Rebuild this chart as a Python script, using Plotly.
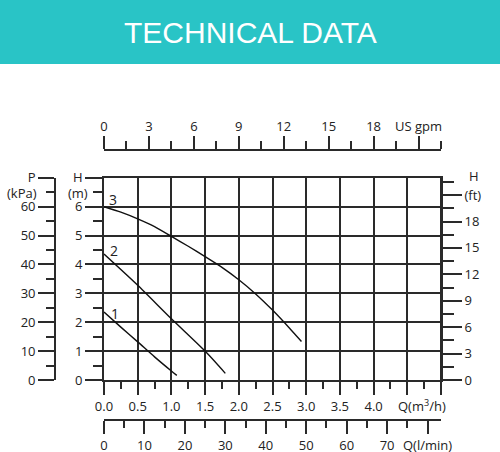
import plotly.graph_objects as go

# pump curves, flow Q in m3/h and head H in m
q_curve1 = [0.0, 0.25, 0.5, 0.75, 1.0, 1.08]
h_curve1 = [2.35, 1.83, 1.32, 0.80, 0.31, 0.16]

q_curve2 = [0.0, 0.5, 1.0, 1.5, 1.8]
h_curve2 = [4.36, 3.28, 2.12, 1.00, 0.23]

q_curve3 = [0.0, 0.25, 0.5, 0.75, 1.0, 1.25, 1.5, 1.75, 2.0, 2.25, 2.5, 2.75, 2.93]
h_curve3 = [6.0, 5.81, 5.58, 5.31, 4.97, 4.63, 4.27, 3.90, 3.47, 2.98, 2.42, 1.80, 1.33]

curve_names = ["1", "2", "3"]

# axis ticks
q_ticks = [0.0, 0.5, 1.0, 1.5, 2.0, 2.5, 3.0, 3.5, 4.0, 4.5, 5.0]
q_labels = ["0.0", "0.5", "1.0", "1.5", "2.0", "2.5", "3.0", "3.5", "4.0", "", ""]
h_ticks = [0, 1, 2, 3, 4, 5, 6, 7]
h_labels = ["0", "1", "2", "3", "4", "5", "6", "H"]
p_ticks = [0, 10, 20, 30, 40, 50, 60, 70]
p_labels = ["0", "10", "20", "30", "40", "50", "60", "P"]
ft_ticks = [0, 3, 6, 9, 12, 15, 18, 21]
ft_labels = ["0", "3", "6", "9", "12", "15", "18", "(ft)"]
gpm_ticks = [0, 3, 6, 9, 12, 15, 18, 21]
gpm_labels = ["0", "3", "6", "9", "12", "15", "18", "US gpm"]
lmin_ticks = [0, 10, 20, 30, 40, 50, 60, 70, 80]
lmin_labels = ["0", "10", "20", "30", "40", "50", "60", "70", "Q(l/min)"]

W, H = 500, 452
INK = "#2a2a2a"
TEAL = "#29C4C6"
LW = 1.8
FONT = dict(family="Open Sans", size=13, color="#222222")


def px_x(px):
    return px / W


def px_y(py):
    return 1 - py / H


fig = go.Figure()

for q, h in [(q_curve1, h_curve1), (q_curve2, h_curve2), (q_curve3, h_curve3)]:
    fig.add_trace(go.Scatter(x=q, y=h, mode="lines", line=dict(color="#111111", width=1.4,
                                                                shape="spline", smoothing=0.6),
                             showlegend=False, hoverinfo="skip"))

# empty traces so the extra axes get drawn
for xa, ya in [("x2", "y"), ("x3", "y"), ("x", "y2"), ("x", "y3")]:
    fig.add_trace(go.Scatter(x=[None], y=[None], xaxis=xa, yaxis=ya, showlegend=False,
                             hoverinfo="skip"))

x_dom = [px_x(104), px_x(441)]
y_dom = [px_y(380), px_y(177.8)]

common = dict(showline=True, linecolor=INK, linewidth=LW, tickcolor=INK, tickwidth=LW,
              ticks="outside", zeroline=False, tickfont=FONT, tickmode="array",
              fixedrange=True, automargin=False)


def minor(step, length):
    return dict(dtick=step, tick0=0, ticks="outside", ticklen=length, tickcolor=INK,
                tickwidth=LW, showgrid=False)


fig.update_layout(
    width=W, height=H,
    margin=dict(l=0, r=0, t=0, b=0, autoexpand=False),
    paper_bgcolor="white", plot_bgcolor="white",
    font=FONT,
    xaxis=dict(common, domain=x_dom, range=[0, 5], tickvals=q_ticks, ticktext=q_labels,
               ticklen=13, mirror=True, showgrid=True, gridcolor=INK, gridwidth=LW,
               minor=minor(0.25, 7)),
    yaxis=dict(common, domain=y_dom, range=[0, 7], tickvals=h_ticks, ticktext=h_labels,
               ticklen=17, mirror=True, showgrid=True, gridcolor=INK, gridwidth=LW,
               minor=minor(0.5, 9)),
    xaxis2=dict(common, overlaying="x", side="top", anchor="free", position=px_y(150),
                range=[0, 22.5], tickvals=gpm_ticks, ticktext=gpm_labels, ticklen=13,
                showgrid=False, minor=minor(1.5, 8)),
    xaxis3=dict(common, overlaying="x", side="bottom", anchor="free", position=px_y(420),
                range=[0, 5000 / 60], tickvals=lmin_ticks, ticktext=lmin_labels, ticklen=13,
                showgrid=False, minor=minor(5, 7)),
    yaxis2=dict(common, overlaying="y", side="left", anchor="free", position=px_x(55),
                range=[0, 70], tickvals=p_ticks, ticktext=p_labels, ticklen=16,
                showgrid=False, minor=minor(5, 8)),
    yaxis3=dict(common, overlaying="y", side="right", anchor="free", position=px_x(441),
                range=[0, 7 / 0.3048], tickvals=ft_ticks, ticktext=ft_labels, ticklen=20,
                showgrid=False, minor=minor(1.5, 12)),
)

# title banner
fig.add_shape(type="rect", xref="paper", yref="paper", x0=0, x1=1, y0=px_y(64), y1=1,
              fillcolor=TEAL, line_width=0, layer="below")
fig.add_annotation(text="TECHNICAL DATA", xref="paper", yref="paper", x=0.5, y=px_y(32),
                   yanchor="middle", showarrow=False,
                   font=dict(family="Liberation Sans", size=30, color="white"))

# unit labels
unit_labels = [("(m)", 78, 193, "center"), ("(kPa)", 22, 193, "center"),
               ("H", 474, 176, "center"), ("Q(m<sup>3</sup>/h)", 396, 405, "left")]
for txt, ux, uy, anchor in unit_labels:
    fig.add_annotation(text=txt, xref="paper", yref="paper", x=px_x(ux), y=px_y(uy),
                       xanchor=anchor, yanchor="middle", showarrow=False, font=FONT)

# curve numbers
label_q = [0.08, 0.06, 0.05]
label_h = [2.31, 4.47, 6.24]
for name, lq, lh in zip(curve_names, label_q, label_h):
    fig.add_annotation(text=name, x=lq, y=lh, showarrow=False, xanchor="left",
                       font=dict(family="Open Sans", size=14, color="#222222"))

fig.write_html("out.html", config={"displayModeBar": False},
               post_script="document.body.style.margin='0';"
                           "document.body.style.overflow='hidden';")
